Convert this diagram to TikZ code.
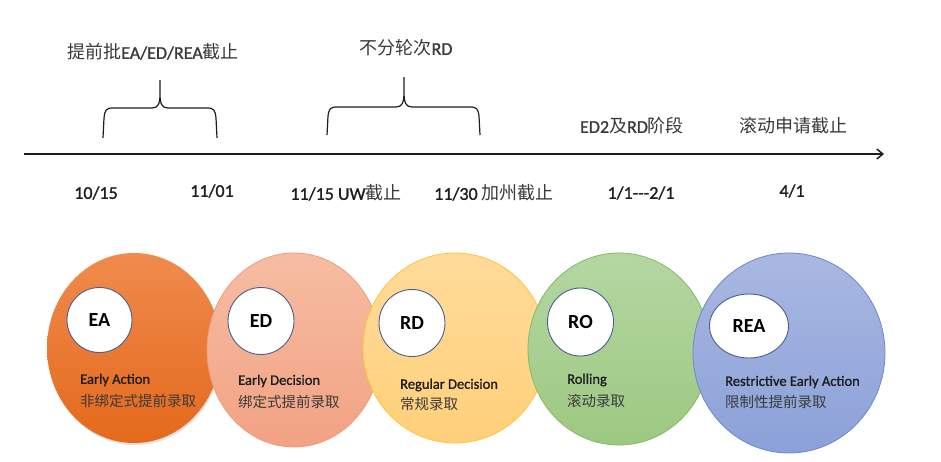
\documentclass[tikz,border=0pt]{standalone}
\usepackage{fontspec}
\setmainfont{Carlito}
\newfontfamily\semib[FakeBold=1.2]{Carlito}
\newfontfamily\cjk{Noto Sans CJK SC}
\usetikzlibrary{arrows.meta,shapes.geometric,shadows}
\definecolor{inkc}{HTML}{1E1E1E}
\definecolor{cjkc}{HTML}{3A3A3A}
\definecolor{eaT}{HTML}{F08B4D}
\definecolor{eaB}{HTML}{E4691C}
\definecolor{edT}{HTML}{F6BDA3}
\definecolor{edB}{HTML}{F2A283}
\definecolor{edD}{HTML}{EE9A78}
\definecolor{rdT}{HTML}{FFDB9A}
\definecolor{rdB}{HTML}{FFD07A}
\definecolor{rdD}{HTML}{FFC43A}
\definecolor{roT}{HTML}{B4D7A2}
\definecolor{roB}{HTML}{9DC881}
\definecolor{roD}{HTML}{84BA62}
\definecolor{reT}{HTML}{A9B8E1}
\definecolor{reB}{HTML}{8CA1D9}
\definecolor{reD}{HTML}{6C88C8}
\definecolor{ringc}{HTML}{4A5F8E}
\begin{document}
\begin{tikzpicture}[x=1pt,y=-1pt,
  bigc/.style={ellipse,inner sep=0pt,line width=0.8pt},
  smallc/.style={ellipse,inner sep=0pt,fill=white,draw=ringc,line width=0.9pt,
     font=\fontsize{20}{22}\selectfont\bfseries,text=black},
  desc/.style={anchor=west,inner sep=0pt,font=\fontsize{14.5}{16}\selectfont\semib,text=inkc},
  descc/.style={anchor=west,inner sep=0pt,font=\fontsize{14.5}{16}\selectfont\cjk,text=cjkc},
  date/.style={inner sep=0pt,font=\fontsize{18}{20}\selectfont\semib,text=inkc},
  lab/.style={inner sep=0pt,font=\fontsize{18}{20}\selectfont\semib,text=cjkc},
  bracec/.style={draw=inkc,line width=1.2pt,line join=round}]
\fill[white] (0,0) rectangle (941,461);
\useasboundingbox (0,0) rectangle (941,461);

% timeline
\coordinate (tl) at (24,154);
\coordinate (tr) at (884,154);
\draw[inkc,line width=1.5pt,-{Straight Barb[length=6pt,width=10pt,line width=1.5pt]}] (tl) -- (tr);

% braces
\draw[bracec] (103,138) -- (104,118) .. controls (105,110) and (106,108) .. (113,108)
  -- (152,108) .. controls (158,108) and (160,104) .. (160,94) -- (160,80)
  (160,94) .. controls (160,104) and (162,108) .. (168,108)
  -- (207,108) .. controls (214,108) and (215,110) .. (216,118) -- (217,138);
\draw[bracec] (327,135) -- (328,116) .. controls (329,109) and (330,107) .. (337,107)
  -- (396,107) .. controls (402,107) and (404,103) .. (404,92) -- (404,77)
  (404,92) .. controls (404,103) and (406,107) .. (412,107)
  -- (470,107) .. controls (477,107) and (478,109) .. (479,116) -- (480,135);

% top labels
\node[lab] (l1) at (153,52) {{\cjk 提前批}EA/ED/REA{\cjk 截止}};
\node[lab] (l2) at (406,48) {{\cjk 不分轮次}RD};
\node[lab] (l3) at (632,126) {ED2{\cjk 及}RD{\cjk 阶段}};
\node[lab] (l4) at (793,126) {\cjk 滚动申请截止};

% dates
\node[date] (d1) at (96,193) {10/15};
\node[date] (d2) at (212,191) {11/01};
\node[date] (d3) at (346,193) {11/15 UW{\color{cjkc}\cjk 截止}};
\node[date] (d4) at (494,193) {11/30 {\color{cjkc}\cjk 加州截止}};
\node[date] (d5) at (641,193) {1/1-{}-{}-2/1};
\node[date] (d6) at (792,191) {4/1};

% big circles
\node[bigc,top color=eaT,bottom color=eaB,minimum width=174,minimum height=190,
  drop shadow={opacity=0.25,shadow xshift=1pt,shadow yshift=-2pt}] (ea) at (134,348) {};
\node[bigc,top color=edT,bottom color=edB,draw=edD,minimum width=174,minimum height=194] (ed) at (294,350) {};
\node[bigc,top color=rdT,bottom color=rdB,draw=rdD,minimum width=184,minimum height=190] (rd) at (455,348) {};
\node[bigc,top color=roT,bottom color=roB,draw=roD,minimum width=182,minimum height=192] (ro) at (619,349) {};
\node[bigc,top color=reT,bottom color=reB,draw=reD,minimum width=192,minimum height=200] (rea) at (789,353) {};

% small circles
\node[smallc,minimum width=65,minimum height=65] (eal) at (99.5,320) {EA};
\node[smallc,minimum width=66,minimum height=67] (edl) at (261,321) {ED};
\node[smallc,minimum width=66,minimum height=67] (rdl) at (412,323) {RD};
\node[smallc,minimum width=66,minimum height=68] (rol) at (580.5,322) {RO};
\node[smallc,minimum width=79,minimum height=64] (real) at (749,326) {REA};

% descriptions
\node[desc] (eat1) at (80,380) {Early Action};
\node[descc] (eat2) at (80,401) {非绑定式提前录取};
\node[desc] (edt1) at (238,381) {Early Decision};
\node[descc] (edt2) at (238,402) {绑定式提前录取};
\node[desc] (rdt1) at (400,385) {Regular Decision};
\node[descc] (rdt2) at (400,404) {常规录取};
\node[desc] (rot1) at (567,380) {Rolling};
\node[descc] (rot2) at (567,401) {滚动录取};
\node[desc] (reat1) at (725,382) {Restrictive Early Action};
\node[descc] (reat2) at (725,402) {限制性提前录取};
\end{tikzpicture}
\end{document}
